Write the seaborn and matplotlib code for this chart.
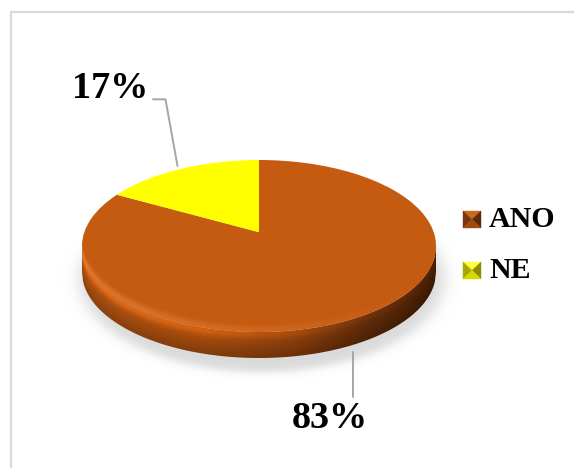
import numpy as np
import matplotlib
matplotlib.use("Agg")
import matplotlib.pyplot as plt
import seaborn as sns
from matplotlib.transforms import Transform, Affine2D
from matplotlib.patches import Polygon
from matplotlib.lines import Line2D

# ---- data -------------------------------------------------------------
categories = ["ANO", "NE"]
shares = [83, 17]
share_labels = ["83%", "17%"]
slice_colors = ["#C55A11", "#FFFF00"]

sns.set_theme(style="white")
plt.rcParams["font.family"] = ["Liberation Serif", "DejaVu Serif"]

W, H = 574, 468
fig = plt.figure(figsize=(W / 100, H / 100), dpi=100)
ax = fig.add_axes([0, 0, 1, 1])
ax.set_xlim(0, W)
ax.set_ylim(H, 0)
ax.axis("off")

# ---- geometry of the tilted disc (pixel units) -----------------------
cx, cy = 259.0, 246.0      # centre of the projected top ellipse
rx, ry = 177.0, 86.0       # radii of the projected top ellipse
depth = 26.0               # visible thickness of the disc
k = 0.16                   # strength of the perspective foreshortening


class Tilt(Transform):
    """Simple perspective: points farther back (larger y) shrink."""
    input_dims = output_dims = 2
    is_separable = False
    has_inverse = False

    def __init__(self, k):
        super().__init__()
        self.k = k

    def transform_non_affine(self, xy):
        xy = np.asarray(xy, dtype=float)
        w = 1.0 + self.k * xy[:, 1]
        return np.column_stack([xy[:, 0] / w, xy[:, 1] / w])


c_off = k / (1 - k ** 2)
to_px = (Affine2D().translate(0, c_off)
         .scale(rx * np.sqrt(1 - k ** 2), -ry * (1 - k ** 2))
         .translate(cx, cy))
disc_tf = Tilt(k) + to_px + ax.transData


def y_front(x):
    return cy + ry * np.sqrt(np.clip(1 - ((x - cx) / rx) ** 2, 0, 1))


# ---- soft shadow under the disc ---------------------------------------
sx0, sx1, sy0, sy1 = 60, 460, 200, 395
gx, gy = np.meshgrid(np.arange(sx0, sx1) + 0.5, np.arange(sy0, sy1) + 0.5)
d = np.sqrt(((gx - (cx + 3)) / (rx + 5)) ** 2 + ((gy - (cy + depth + 7)) / (ry + 7)) ** 2)
alpha = 0.32 / (1 + np.exp((d - 1.0) / 0.025))
shadow = np.zeros(gx.shape + (4,))
shadow[..., :3] = 0.55
shadow[..., 3] = alpha
ax.imshow(shadow, extent=(sx0, sx1, sy1, sy0), zorder=1, interpolation="bilinear")

# ---- side wall of the disc --------------------------------------------
xs = np.linspace(cx - rx, cx + rx, 300)
top_edge = np.column_stack([xs, y_front(xs)])
bot_edge = np.column_stack([xs[::-1], y_front(xs[::-1]) + depth])
side_poly = Polygon(np.vstack([top_edge, bot_edge]), closed=True,
                    facecolor="none", edgecolor="none", transform=ax.transData)
ax.add_patch(side_poly)

ix0, ix1, iy0, iy1 = int(cx - rx) - 2, int(cx + rx) + 2, int(cy) - 2, int(cy + ry + depth) + 3
px, py = np.meshgrid(np.arange(ix0, ix1) + 0.5, np.arange(iy0, iy1) + 0.5)
u = np.clip((px - (cx - rx)) / (2 * rx), 0, 1)
t = np.clip((py - y_front(px)) / depth, 0, 1)
stops = [0.0, 0.35, 0.6, 0.8, 1.0]
stop_cols = np.array([[0.76, 0.36, 0.08], [0.72, 0.33, 0.06], [0.60, 0.27, 0.05],
                      [0.42, 0.19, 0.04], [0.30, 0.13, 0.02]])
base = np.stack([np.interp(u, stops, stop_cols[:, i]) for i in range(3)], axis=-1)
light = 1 + 0.22 * np.exp(-((t - 0.10) / 0.18) ** 2) * (1 - 0.7 * u)
shade = 1 - 0.30 * t
side_img = np.clip(base * (light * shade)[..., None], 0, 1)
im = ax.imshow(side_img, extent=(ix0, ix1, iy1, iy0), zorder=2, interpolation="bilinear")
im.set_clip_path(side_poly)

# ---- top face: the pie itself ----------------------------------------
wedges, _ = ax.pie(shares, colors=slice_colors, startangle=90, counterclock=False,
                   radius=1.0, center=(0, 0), frame=True,
                   wedgeprops=dict(linewidth=0))
for w in wedges:
    w.set_transform(disc_tf)
    w.set_zorder(3)
ax.set_aspect("auto")
ax.set_xlim(0, W)
ax.set_ylim(H, 0)
ax.axis("off")

# soft bevel glow along the front rim of the top face
gy0 = int(cy) - 40
hx, hy = np.meshgrid(np.arange(ix0, ix1) + 0.5, np.arange(gy0, iy1) + 0.5)
hu = np.clip((hx - (cx - rx)) / (2 * rx), 0, 1)
dist = y_front(hx) - hy
glow_a = 0.38 * np.exp(-((dist - 2.0) / 4.5) ** 2) * np.clip(1.15 - 1.2 * hu, 0, 1)
glow_a[dist < -0.5] = 0
glow = np.zeros(hx.shape + (4,))
glow[..., 0], glow[..., 1], glow[..., 2] = 0.96, 0.60, 0.30
glow[..., 3] = glow_a
gim = ax.imshow(glow, extent=(ix0, ix1, iy1, gy0), zorder=4, interpolation="bilinear")
gim.set_clip_path(wedges[0])

# ---- value labels with leader lines -------------------------------------
lead = "#A6A6A6"
ax.add_line(Line2D([153, 165.5, 177.5], [99.3, 99.3, 166], color=lead, lw=1.4, zorder=5))
ax.add_line(Line2D([353, 353], [352, 397], color=lead, lw=1.4, zorder=5))
label_pos = {"ANO": (330, 419), "NE": (110.5, 88)}
for cat, lab in zip(categories, share_labels):
    x, y = label_pos[cat]
    ax.text(x, y, lab, ha="center", va="center", fontsize=27.5, fontweight="bold",
            color="black", zorder=6)

# ---- legend with bevelled square keys ----------------------------------
key_style = {
    "ANO": ("#C86A22", "#7A360A", "#5E2A07", "#A04A0E"),
    "NE": ("#FFFF40", "#A8A800", "#8C8C00", "#D8D800"),
}
key_y = {"ANO": 219.5, "NE": 270.5}
for cat in categories:
    x0, x1 = 463, 481
    yc = key_y[cat]
    y0, y1 = yc - 8.5, yc + 8.5
    mx, my = (x0 + x1) / 2, yc
    top, left, right, bottom = key_style[cat]
    tris = [
        ([(x0, y0), (x1, y0), (mx, my)], top),
        ([(x0, y0), (x0, y1), (mx, my)], left),
        ([(x1, y0), (x1, y1), (mx, my)], right),
        ([(x0, y1), (x1, y1), (mx, my)], bottom),
    ]
    for pts, col in tris:
        ax.add_patch(Polygon(pts, closed=True, facecolor=col, edgecolor=col,
                             lw=0.3, zorder=5))
    ax.text(489, yc, cat, ha="left", va="center", fontsize=21.5, fontweight="bold",
            color="black", zorder=6)

# ---- chart frame ---------------------------------------------------------
ax.add_line(Line2D([10.5, W], [12, 12], color="#D9D9D9", lw=1.6, zorder=7))
ax.add_line(Line2D([10.5, 10.5], [12, H], color="#D9D9D9", lw=1.6, zorder=7))

fig.savefig("out.png", dpi=100, facecolor="white")
